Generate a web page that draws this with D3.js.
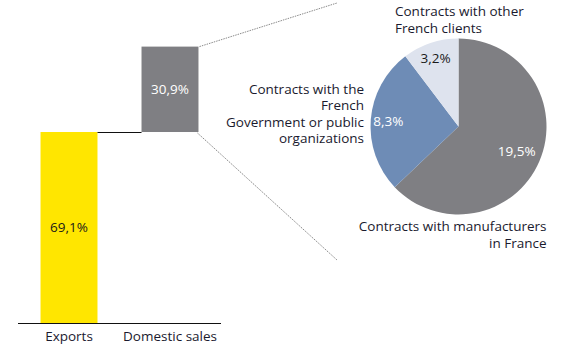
<!DOCTYPE html>
<html>
<head>
<meta charset="utf-8">
<script src="https://cdn.jsdelivr.net/npm/d3@7"></script>
<style>
  html, body { margin: 0; padding: 0; background: #fff; }
  svg { display: block; }
  text { font-family: "Open Sans", Roboto, sans-serif; font-size: 13.5px; fill: #1a1a2e; }
</style>
</head>
<body>
<svg id="chart" width="564" height="349"></svg>
<script>
// Sales split: exports vs. domestic, then domestic breakdown
const barCategories = ["Exports", "Domestic sales"];
const barValues = [69.1, 30.9];
const barLabels = ["69,1%", "30,9%"];

const pieCategories = [
  "Contracts with manufacturers in France",
  "Contracts with the French Government or public organizations",
  "Contracts with other French clients"
];
const pieValues = [19.5, 8.3, 3.2];
const pieLabels = ["19,5%", "8,3%", "3,2%"];

const svg = d3.select("#chart");
const FONT = "'Open Sans', Roboto, sans-serif";

// ---- waterfall bars ----
const baseY = 323;
const y = d3.scaleLinear().domain([0, 100]).range([baseY, baseY - 276.4]);
const x = d3.scaleBand().domain(barCategories).range([18, 221]).paddingInner(0.436).paddingOuter(0.223);

const barColors = ["#ffe600", "#7f7f83"];
const labelColors = ["#1a1a1a", "#ffffff"];

// cumulative start of each bar
const starts = barValues.map((v, i) => d3.sum(barValues.slice(0, i)));

svg.selectAll("rect.bar")
  .data(barValues)
  .join("rect")
  .attr("class", "bar")
  .attr("x", (d, i) => x(barCategories[i]))
  .attr("width", x.bandwidth())
  .attr("y", (d, i) => y(starts[i] + d))
  .attr("height", (d, i) => y(starts[i]) - y(starts[i] + d))
  .attr("fill", (d, i) => barColors[i]);

// connector between bars
svg.append("line")
  .attr("x1", x(barCategories[0]) + x.bandwidth())
  .attr("x2", x(barCategories[1]))
  .attr("y1", Math.round(y(barValues[0])) + 0.5)
  .attr("y2", Math.round(y(barValues[0])) + 0.5)
  .attr("stroke", "#111")
  .attr("stroke-width", 1);

svg.selectAll("text.barlabel")
  .data(barLabels)
  .join("text")
  .attr("class", "barlabel")
  .attr("x", (d, i) => x(barCategories[i]) + x.bandwidth() / 2)
  .attr("y", (d, i) => y(starts[i] + barValues[i] / 2))
  .attr("dy", "0.35em")
  .attr("text-anchor", "middle")
  .style("fill", (d, i) => labelColors[i])
  .text(d => d);

// baseline axis
const axis = d3.axisBottom(x).tickSize(0).tickPadding(8);
const axisG = svg.append("g").attr("transform", `translate(0,${baseY})`).call(axis);
axisG.select(".domain").attr("d", `M18,0.5H221`).attr("stroke", "#111");
axisG.selectAll("text").style("font-size", "13.5px").style("fill", "#1a1a2e")
  .style("font-family", FONT);

// ---- pie ----
const cx = 458.5, cy = 126.5, r = 88;
const pieColors = ["#7f7f83", "#6e8cb6", "#dee3ee"];
const pieTextColors = ["#ffffff", "#ffffff", "#1a1a1a"];

const pie = d3.pie().sort(null).value(d => d)(pieValues);
const arc = d3.arc().innerRadius(0).outerRadius(r);
const pg = svg.append("g").attr("transform", `translate(${cx},${cy})`);

pg.selectAll("path")
  .data(pie)
  .join("path")
  .attr("d", arc)
  .attr("fill", (d, i) => pieColors[i]);

const labelArcs = [0.72, 0.8, 0.82];
pg.selectAll("text.pielabel")
  .data(pie)
  .join("text")
  .attr("class", "pielabel")
  .attr("transform", (d, i) => {
    const c = d3.arc().innerRadius(r * labelArcs[i]).outerRadius(r * labelArcs[i]).centroid(d);
    return `translate(${c[0]},${c[1]})`;
  })
  .attr("dy", "0.35em")
  .attr("text-anchor", "middle")
  .style("fill", (d, i) => pieTextColors[i])
  .text((d, i) => pieLabels[i]);

// dotted leader lines from the domestic bar to the pie
const bx = x(barCategories[1]) + x.bandwidth();
svg.append("line")
  .attr("x1", bx + 1).attr("y1", y(100))
  .attr("x2", 337).attr("y2", 3)
  .attr("stroke", "#8a8a8a").attr("stroke-width", 1).attr("stroke-dasharray", "1.5,1");
svg.append("line")
  .attr("x1", bx - 1).attr("y1", y(barValues[0]) + 1)
  .attr("x2", 337).attr("y2", 260)
  .attr("stroke", "#8a8a8a").attr("stroke-width", 1).attr("stroke-dasharray", "1.5,1");

// category names around the pie
function multiline(lines, px, py, anchor) {
  const t = svg.append("text").attr("text-anchor", anchor);
  lines.forEach((l, i) => {
    t.append("tspan").attr("x", px).attr("y", py + i * 16.6).text(l);
  });
}
multiline(["Contracts with other", "French clients"], 395, 16, "start");
multiline(["Contracts with the", "French", "Government or public", "organizations"], 364, 93.5, "end");
multiline(["Contracts with manufacturers", "in France"], 546.5, 231, "end");
</script>
</body>
</html>
